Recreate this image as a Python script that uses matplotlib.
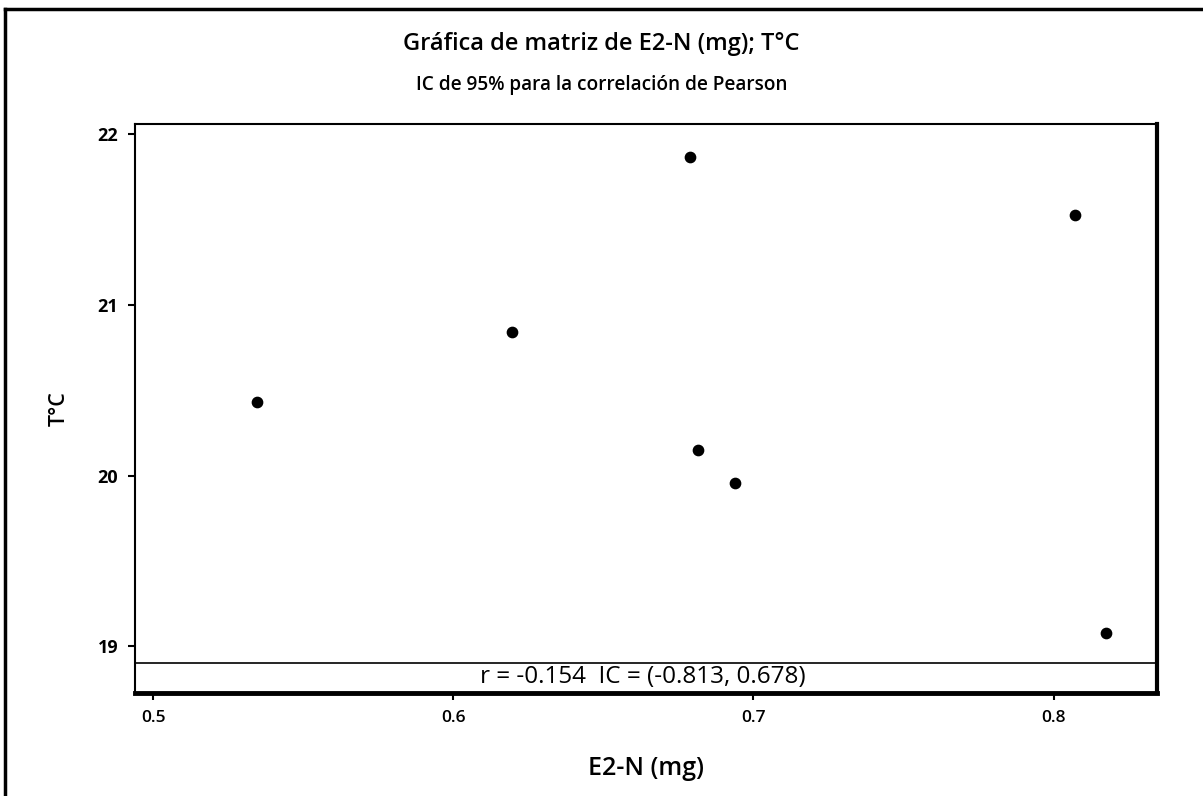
import numpy as np
import matplotlib.pyplot as plt
from matplotlib.lines import Line2D

plt.rcParams['font.family'] = ['Open Sans', 'DejaVu Sans']

# E2-N (mg) vs temperature
e2n = np.array([0.5345, 0.6196, 0.6787, 0.6815, 0.6939, 0.8070, 0.8173])
temp = np.array([20.43, 20.84, 21.865, 20.152, 19.957, 21.53, 19.077])

xticks = [0.5, 0.6, 0.7, 0.8]
yticks = [19, 20, 21, 22]
r_text = "r = -0.154  IC = (-0.813, 0.678)"

fig = plt.figure(figsize=(12.03, 7.96), dpi=100)
ax = fig.add_axes([135 / 1203, 1 - 693 / 796, (1157 - 135) / 1203, (693 - 124) / 796])

ax.scatter(e2n, temp, s=55, color='black', zorder=3)

ax.set_xlim(0.494, 0.8344)
ax.set_ylim(18.727, 22.061)
ax.set_xticks(xticks)
ax.set_xticklabels([str(t) for t in xticks])
ax.set_yticks(yticks)
ax.tick_params(direction='out', length=5, width=1.5, pad=7)
ax.tick_params(axis='y', labelsize=13)
ax.tick_params(axis='x', labelsize=12.5)
for lab in ax.get_yticklabels():
    lab.set_fontweight('bold')
for lab in ax.get_xticklabels():
    lab.set_fontweight('semibold')

ax.spines['left'].set_linewidth(1.5)
ax.spines['top'].set_linewidth(1.5)
ax.spines['right'].set_linewidth(3)
ax.spines['bottom'].set_linewidth(3.5)

# band with the correlation result
ax.axhline(18.905, color='black', lw=1.2)
ax.text(0.6632, 18.818, r_text, ha='center', va='center', fontsize=17.5)

ax.set_xlabel("E2-N (mg)", fontsize=18, fontweight='semibold', labelpad=22)
ax.set_ylabel("T°C", fontsize=15.5, fontweight='semibold', labelpad=20)

fig.text(0.5, 1 - 44 / 796, "Gráfica de matriz de E2-N (mg); T°C",
         ha='center', va='center', fontsize=17, fontweight='semibold')
fig.text(0.5, 1 - 85 / 796, "IC de 95% para la correlación de Pearson",
         ha='center', va='center', fontsize=13.7, fontweight='semibold')

# outer frame lines
fig.add_artist(Line2D([5 / 1203, 5 / 1203], [0, 1 - 9 / 796], transform=fig.transFigure, color='black', lw=2.5))
fig.add_artist(Line2D([5 / 1203, 1], [1 - 9 / 796, 1 - 9 / 796], transform=fig.transFigure, color='black', lw=2.5))

fig.savefig('out.png', dpi=100)
